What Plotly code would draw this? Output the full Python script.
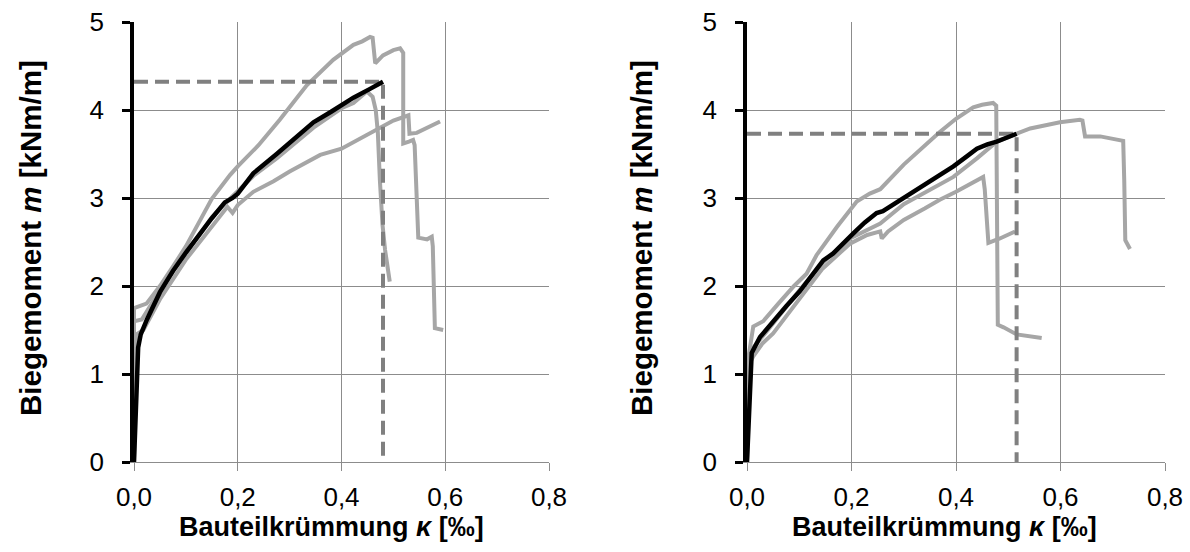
import plotly.graph_objects as go

# ---------------- data: left panel ----------------
L_mean_x = [0, 0.004, 0.008, 0.013, 0.025, 0.05, 0.075, 0.1, 0.125, 0.15, 0.175, 0.19, 0.2, 0.23, 0.275, 0.31, 0.346, 0.38, 0.423, 0.455, 0.48]
L_mean_y = [0, 0.7, 1.3, 1.45, 1.62, 1.93, 2.17, 2.38, 2.58, 2.77, 2.95, 3.0, 3.05, 3.28, 3.5, 3.68, 3.86, 3.98, 4.14, 4.24, 4.32]

L_a_x = [0, 0, 0.024, 0.05, 0.075, 0.1, 0.125, 0.15, 0.185, 0.2, 0.24, 0.281, 0.333, 0.384, 0.423, 0.44, 0.455, 0.46, 0.465, 0.48, 0.5, 0.513, 0.519, 0.519, 0.53, 0.538, 0.541, 0.548, 0.565, 0.574, 0.576, 0.58, 0.596]
L_a_y = [0, 1.75, 1.8, 2.0, 2.22, 2.45, 2.72, 2.99, 3.26, 3.36, 3.6, 3.89, 4.28, 4.57, 4.74, 4.78, 4.83, 4.82, 4.53, 4.62, 4.68, 4.70, 4.65, 3.62, 3.64, 3.66, 3.6, 2.55, 2.53, 2.56, 2.45, 1.52, 1.5]

L_b_x = [0, 0, 0.015, 0.05, 0.1, 0.15, 0.19, 0.23, 0.275, 0.346, 0.4, 0.423, 0.449, 0.46, 0.466, 0.47, 0.474, 0.479, 0.484, 0.493]
L_b_y = [0, 1.6, 1.62, 1.95, 2.37, 2.78, 3.02, 3.25, 3.45, 3.8, 4.02, 4.08, 4.21, 4.15, 4.0, 3.75, 3.2, 2.7, 2.41, 2.05]

L_c_x = [0, 0.005, 0.018, 0.05, 0.1, 0.15, 0.18, 0.19, 0.2, 0.23, 0.269, 0.3, 0.359, 0.4, 0.455, 0.5, 0.529, 0.531, 0.545, 0.57, 0.59]
L_c_y = [0, 1.45, 1.5, 1.85, 2.3, 2.68, 2.9, 2.83, 2.92, 3.07, 3.19, 3.3, 3.49, 3.56, 3.74, 3.88, 3.94, 3.73, 3.74, 3.81, 3.87]

# ---------------- data: right panel ----------------
R_mean_x = [0, 0.005, 0.009, 0.025, 0.04, 0.057, 0.075, 0.101, 0.125, 0.146, 0.165, 0.185, 0.204, 0.225, 0.248, 0.26, 0.29, 0.325, 0.36, 0.395, 0.42, 0.44, 0.46, 0.478, 0.516]
R_mean_y = [0, 0.8, 1.24, 1.42, 1.53, 1.64, 1.77, 1.94, 2.12, 2.29, 2.37, 2.48, 2.6, 2.72, 2.83, 2.85, 2.96, 3.09, 3.22, 3.36, 3.47, 3.56, 3.61, 3.64, 3.73]

R_a_x = [0, 0.003, 0.012, 0.031, 0.06, 0.09, 0.114, 0.133, 0.172, 0.21, 0.235, 0.255, 0.3, 0.369, 0.4, 0.433, 0.45, 0.471, 0.477, 0.478, 0.48, 0.491, 0.516, 0.564]
R_a_y = [0, 1.2, 1.54, 1.6, 1.8, 2.0, 2.14, 2.35, 2.67, 2.96, 3.05, 3.1, 3.38, 3.75, 3.9, 4.03, 4.06, 4.08, 4.05, 2.5, 1.56, 1.53, 1.45, 1.41]

R_b_x = [0, 0.003, 0.012, 0.03, 0.05, 0.1, 0.145, 0.197, 0.23, 0.255, 0.258, 0.27, 0.3, 0.34, 0.369, 0.4, 0.433, 0.452, 0.455, 0.462, 0.484, 0.513]
R_b_y = [0, 1.1, 1.2, 1.35, 1.46, 1.85, 2.2, 2.48, 2.58, 2.62, 2.54, 2.62, 2.75, 2.88, 2.98, 3.07, 3.17, 3.24, 3.1, 2.49, 2.54, 2.62]

R_c_x = [0, 0.003, 0.012, 0.04, 0.1, 0.146, 0.2, 0.255, 0.3, 0.35, 0.395, 0.44, 0.478, 0.516, 0.542, 0.599, 0.637, 0.642, 0.647, 0.676, 0.72, 0.722, 0.724, 0.733]
R_c_y = [0, 1.15, 1.3, 1.5, 1.95, 2.27, 2.55, 2.71, 2.93, 3.1, 3.24, 3.45, 3.64, 3.73, 3.79, 3.86, 3.89, 3.88, 3.7, 3.7, 3.65, 3.2, 2.52, 2.42]

x_tickvals = [0, 0.2, 0.4, 0.6, 0.8]
y_tickvals = [0, 1, 2, 3, 4, 5]
y_title = "<b>Biegemoment <i>m</i> [kNm/m]</b>"
x_title = "<b>Bauteilkrümmung <i>κ</i> [‰]</b>"

GRAY = "#a6a6a6"
DASH = "#808080"
GRID = "#8c8c8c"
FONT = "Liberation Sans, Arial, sans-serif"

fig = go.Figure()

panels = [
    ("x", "y", [(L_a_x, L_a_y), (L_b_x, L_b_y), (L_c_x, L_c_y)], (L_mean_x, L_mean_y)),
    ("x2", "y2", [(R_a_x, R_a_y), (R_b_x, R_b_y), (R_c_x, R_c_y)], (R_mean_x, R_mean_y)),
]

for xa, ya, grays, (mx, my) in panels:
    for gx, gy in grays:
        fig.add_trace(go.Scatter(x=gx, y=gy, mode="lines", xaxis=xa, yaxis=ya,
                                 line=dict(color=GRAY, width=4), showlegend=False, hoverinfo="skip"))
    xe, ye = mx[-1], my[-1]
    fig.add_trace(go.Scatter(x=[0, xe, xe], y=[ye, ye, 0], mode="lines", xaxis=xa, yaxis=ya,
                             line=dict(color=DASH, width=4, dash="14px,7px"), showlegend=False, hoverinfo="skip"))
    fig.add_trace(go.Scatter(x=mx, y=my, mode="lines", xaxis=xa, yaxis=ya,
                             line=dict(color="black", width=4.5), showlegend=False, hoverinfo="skip"))

W, H = 1190, 552
xdoms = [[134 / W, 549 / W], [747 / W, 1165 / W]]

common_x = dict(range=[0, 0.8], tickvals=x_tickvals, tickformat=".1f", showgrid=True, gridcolor=GRID, gridwidth=1.3,
                showline=True, linecolor=GRID, linewidth=1.3, ticks="outside", ticklen=8, tickcolor=GRID, tickwidth=1.3,
                zeroline=False, automargin=False, ticklabeloverflow="allow",
                tickfont=dict(family=FONT, size=26, color="black"), ticklabelstandoff=4)
common_y = dict(range=[0, 5], tickvals=y_tickvals, showgrid=True, gridcolor=GRID, gridwidth=1.3,
                showline=True, linecolor="black", linewidth=3.5, ticks="outside", ticklen=8, tickcolor="black", tickwidth=3,
                zeroline=False, automargin=False, ticklabeloverflow="allow",
                tickfont=dict(family=FONT, size=26, color="black"), ticklabelstandoff=13)

fig.update_layout(
    template="none",
    width=W, height=H,
    margin=dict(l=0, r=0, t=22, b=90),
    paper_bgcolor="white", plot_bgcolor="white",
    separators=",.",
    font=dict(family=FONT, color="black"),
    showlegend=False,
    xaxis=dict(domain=xdoms[0], anchor="y", **common_x),
    yaxis=dict(domain=[0, 1], anchor="x", **common_y),
    xaxis2=dict(domain=xdoms[1], anchor="y2", **common_x),
    yaxis2=dict(domain=[0, 1], anchor="x2", **common_y),
)

plot_h = H - 22 - 90
def py2paper(py):
    return (462 - py) / plot_h

for ytx, xtx in [(30, 331), (641, 944)]:
    fig.add_annotation(text=y_title, xref="paper", yref="paper", x=ytx / W, y=py2paper(238),
                       textangle=-90, showarrow=False, xanchor="center", yanchor="middle",
                       font=dict(family=FONT, size=29.5, color="black"))
    fig.add_annotation(text=x_title, xref="paper", yref="paper", x=xtx / W, y=py2paper(527),
                       showarrow=False, xanchor="center", yanchor="middle",
                       font=dict(family=FONT, size=27, color="black"))

fig.write_html("out.html", config={"displayModeBar": False},
               post_script="document.body.style.margin='0';document.body.style.overflow='hidden';")
